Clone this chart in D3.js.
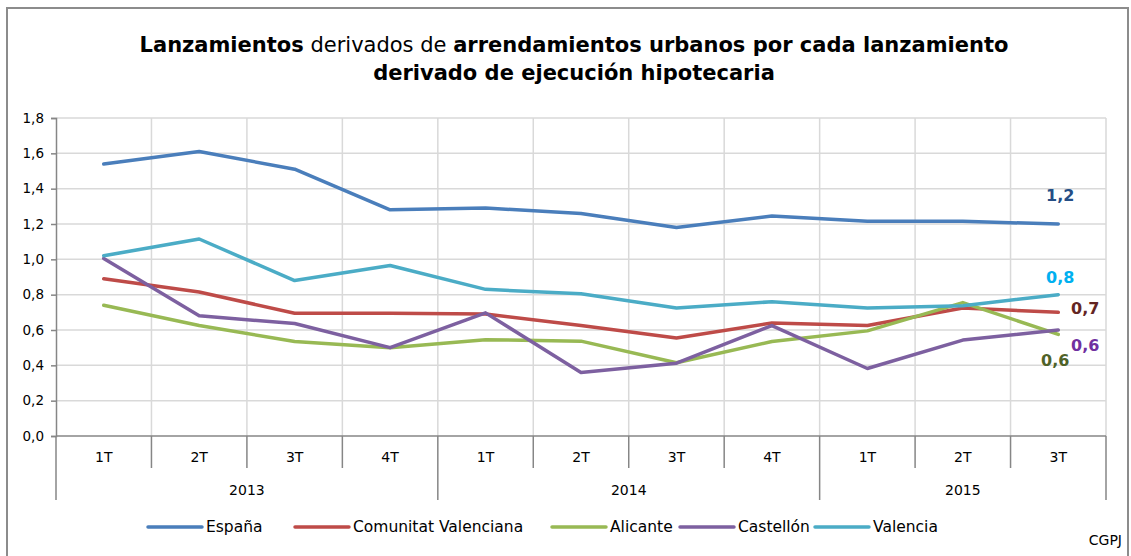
<!DOCTYPE html>
<html><head><meta charset="utf-8">
<script src="https://cdn.jsdelivr.net/npm/d3@7"></script>
<style>
body{margin:0;background:#fff;}
svg{display:block;font-family:"DejaVu Sans",sans-serif;}
</style></head>
<body>
<svg id="chart" width="1131" height="556"></svg>
<script>
const quarters = ["1T","2T","3T","4T","1T","2T","3T","4T","1T","2T","3T"];
const years = ["2013","2014","2015"];
const yearSpans = [4,4,3];
const seriesNames = ["España","Comunitat Valenciana","Alicante","Castellón","Valencia"];
const espana = [1.54,1.61,1.51,1.28,1.29,1.26,1.18,1.245,1.215,1.215,1.20];
const comunitat = [0.89,0.815,0.695,0.695,0.69,0.625,0.555,0.64,0.625,0.725,0.70];
const alicante = [0.74,0.625,0.535,0.50,0.545,0.537,0.415,0.535,0.595,0.755,0.575];
const castellon = [1.005,0.68,0.637,0.50,0.697,0.36,0.412,0.625,0.382,0.543,0.60];
const valencia = [1.02,1.115,0.88,0.965,0.83,0.805,0.725,0.76,0.725,0.737,0.80];
const colors = ["#4A7EBB","#BE4B48","#98B954","#7D60A0","#4BACC6"];
const endLabels = ["1,2","0,8","0,7","0,6","0,6"];
const endColors = ["#254E85","#00B0F0","#632523","#7030A0","#4F6228"];
const yTicks = [0,0.2,0.4,0.6,0.8,1.0,1.2,1.4,1.6,1.8];

const svg = d3.select("#chart");
const L = 56, R = 1106, T = 118, B = 436;
const idx = quarters.map((q,i)=>i);
const x = d3.scaleBand().domain(idx).range([L,R]).padding(0);
const y = d3.scaleLinear().domain([0,1.8]).range([B,T]);
const fmt = v => d3.format(".1f")(v).replace(".",",");

// outer border
svg.append("rect").attr("x",7).attr("y",8).attr("width",1121).attr("height",560)
  .attr("fill","none").attr("stroke","#8c8c8c").attr("stroke-width",2);

// title
const title = svg.append("text").attr("text-anchor","middle").attr("font-size",21).attr("fill","#000");
const t1 = title.append("tspan").attr("x",574).attr("y",52);
t1.append("tspan").attr("font-weight","bold").text("Lanzamientos");
t1.append("tspan").text(" derivados de ");
t1.append("tspan").attr("font-weight","bold").text("arrendamientos urbanos por cada lanzamiento");
title.append("tspan").attr("x",574).attr("y",80).attr("font-weight","bold").text("derivado de ejecución hipotecaria");

// gridlines
const grid = svg.append("g");
grid.selectAll("line.h").data(yTicks.filter(d=>d>0)).join("line")
  .attr("x1",L).attr("x2",R).attr("y1",d=>y(d)).attr("y2",d=>y(d))
  .attr("stroke","#d9d9d9").attr("stroke-width",1.5);
grid.selectAll("line.v").data(idx.slice(1).concat([quarters.length])).join("line")
  .attr("x1",d=> d<quarters.length ? x(d) : R).attr("x2",d=> d<quarters.length ? x(d) : R)
  .attr("y1",T).attr("y2",B).attr("stroke","#d9d9d9").attr("stroke-width",1.5);

// y axis
const yAxis = d3.axisLeft(y).tickValues(yTicks).tickFormat(fmt).tickSize(5).tickPadding(7);
const gy = svg.append("g").attr("transform",`translate(${L},0)`).call(yAxis);
gy.select(".domain").attr("stroke","#868686").attr("stroke-width",1.5);
gy.selectAll(".tick line").attr("stroke","#868686").attr("stroke-width",1.5);
gy.selectAll(".tick text").attr("font-size",13.5).attr("fill","#000").attr("font-family","DejaVu Sans");

// x axis
const gx = svg.append("g");
gx.append("line").attr("x1",L).attr("x2",R).attr("y1",B).attr("y2",B).attr("stroke","#868686").attr("stroke-width",1.5);
gx.selectAll("text.q").data(idx).join("text")
  .attr("x",d=>x(d)+x.bandwidth()/2).attr("y",462).attr("text-anchor","middle")
  .attr("font-size",14).text(d=>quarters[d]);
// separators
let acc = 0; const yearStarts=[];
yearSpans.forEach(s=>{yearStarts.push(acc); acc+=s;});
const bounds = d3.range(quarters.length+1);
gx.selectAll("line.sep").data(bounds).join("line")
  .attr("x1",d=> d<quarters.length ? x(d) : R).attr("x2",d=> d<quarters.length ? x(d) : R)
  .attr("y1",B).attr("y2",d=> (yearStarts.includes(d)||d===quarters.length) ? 500 : 468)
  .attr("stroke","#868686").attr("stroke-width",1.5);
gx.selectAll("text.y").data(years).join("text")
  .attr("x",(d,i)=>{const s=x(yearStarts[i]); const e = yearStarts[i]+yearSpans[i] < quarters.length ? x(yearStarts[i]+yearSpans[i]) : R; return (s+e)/2;})
  .attr("y",495).attr("text-anchor","middle").attr("font-size",14).text(d=>d);

// lines
const data = [espana,comunitat,alicante,castellon,valencia];
const line = d3.line().x((d,i)=>x(i)+x.bandwidth()/2).y(d=>y(d));
const drawOrder = [1,2,3,4,0];
svg.append("g").selectAll("path").data(drawOrder).join("path")
  .attr("d",k=>line(data[k])).attr("fill","none").attr("stroke",k=>colors[k])
  .attr("stroke-width",3.5).attr("stroke-linejoin","round").attr("stroke-linecap","round");

// end labels
const last = quarters.length-1;
const lx = x(last)+x.bandwidth()/2;
const endPos = [[lx+2,-23],[lx+2,-12],[lx+27,2],[lx+27,21],[lx-3,32]];
const endVals = [espana[last],valencia[last],comunitat[last],castellon[last],alicante[last]];
svg.append("g").selectAll("text").data(endLabels).join("text")
  .attr("x",(d,i)=>endPos[i][0]).attr("y",(d,i)=>y(endVals[i])+endPos[i][1])
  .attr("text-anchor","middle").attr("font-size",16).attr("font-weight","bold")
  .attr("fill",(d,i)=>endColors[i]).text(d=>d);

// legend
const legX = [148,295,552,680,815];
const leg = svg.append("g");
seriesNames.forEach((n,i)=>{
  leg.append("line").attr("x1",legX[i]).attr("x2",legX[i]+54).attr("y1",527).attr("y2",527)
    .attr("stroke",colors[i]).attr("stroke-width",3.5).attr("stroke-linecap","round");
  leg.append("text").attr("x",legX[i]+58).attr("y",532).attr("font-size",15.5).text(n);
});
svg.append("text").attr("x",1122).attr("y",545).attr("text-anchor","end").attr("font-size",14).text("CGPJ");
</script>
</body></html>
